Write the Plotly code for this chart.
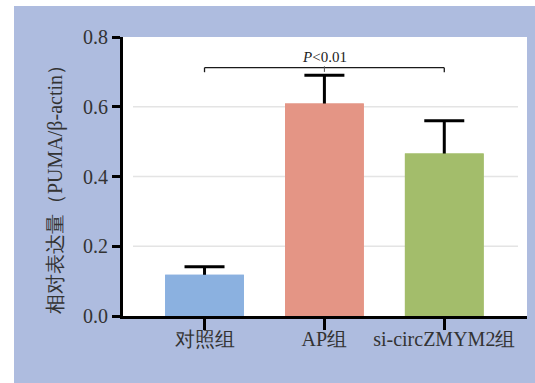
import plotly.graph_objects as go

# Relative PUMA expression by group
categories = ["对照组", "AP组", "si-circZMYM2组"]
means = [0.118, 0.609, 0.466]
sd_upper = [0.023, 0.081, 0.094]
bar_colors = ["#8BB1E0", "#E49585", "#A3BD6B"]
y_ticks = [0.0, 0.2, 0.4, 0.6, 0.8]
y_tick_text = ["0.0", "0.2", "0.4", "0.6", "0.8"]
grid_levels = [0.2, 0.4, 0.6]
bracket_y = 0.712
bracket_label = "<i>P</i>&lt;0.01"

W, H = 535, 383
ML, MR, MT, MB = 123, 8, 37, 67
PW, PH = W - ML - MR, H - MT - MB

serif = "'Liberation Serif', serif"

x_idx = list(range(len(categories)))
bar_width = 0.657

fig = go.Figure()
# first pass carries the error bars (symmetric, so the lower half sits inside the bar)
fig.add_trace(go.Bar(
    x=x_idx, y=means, width=bar_width,
    marker=dict(color=bar_colors, line=dict(width=0)),
    error_y=dict(type="data", array=sd_upper, color="#000000",
                 thickness=3, width=20),
    showlegend=False, hoverinfo="skip",
))
# second pass repaints the bars on top, hiding the lower whisker
fig.add_trace(go.Bar(
    x=x_idx, y=means, width=bar_width,
    marker=dict(color=bar_colors, line=dict(width=0)),
    showlegend=False,
))

shapes = []
# horizontal grid lines, inset from the plot edges
for g in grid_levels:
    shapes.append(dict(type="line", xref="paper", yref="y",
                       x0=(133 - ML) / PW, x1=(518 - ML) / PW, y0=g, y1=g,
                       line=dict(color="#E4E4E4", width=1.5), layer="below"))

# significance bracket between first and last group
tick_drop = 0.013
shapes.append(dict(type="line", xref="x", yref="y", x0=x_idx[0], x1=x_idx[-1],
                   y0=bracket_y, y1=bracket_y, line=dict(color="#1a1a1a", width=1.3)))
for xi in (x_idx[0], x_idx[-1]):
    shapes.append(dict(type="line", xref="x", yref="y", x0=xi, x1=xi,
                       y0=bracket_y, y1=bracket_y - tick_drop,
                       line=dict(color="#1a1a1a", width=1.3)))
shapes.append(dict(type="line", xref="x", yref="y", x0=x_idx[1], x1=x_idx[1],
                   y0=bracket_y + 0.004, y1=bracket_y - 0.012,
                   line=dict(color="#555555", width=1)))

# white page border on the left and top
shapes.append(dict(type="rect", xref="paper", yref="paper",
                   x0=-ML / PW - 0.01, x1=(14 - ML) / PW,
                   y0=-MB / PH - 0.01, y1=(PH + MT) / PH + 0.01,
                   fillcolor="white", line=dict(width=0), layer="above"))
shapes.append(dict(type="rect", xref="paper", yref="paper",
                   x0=-ML / PW - 0.01, x1=(W - ML) / PW + 0.01,
                   y0=(PH + MT - 6) / PH, y1=(PH + MT) / PH + 0.01,
                   fillcolor="white", line=dict(width=0), layer="above"))

annotations = [
    dict(text=bracket_label, x=x_idx[1], y=bracket_y, xref="x", yref="y",
         yanchor="bottom", yshift=1, showarrow=False,
         font=dict(family=serif, size=15, color="#222222")),
    dict(text="相对表达量（PUMA/β-actin）", textangle=-90,
         xref="paper", yref="paper", x=(55 - ML) / PW, y=(PH + MT - 185) / PH,
         xanchor="center", yanchor="middle", showarrow=False,
         font=dict(family=serif, size=20, color="#333333")),
]

fig.update_layout(
    width=W, height=H,
    margin=dict(l=ML, r=MR, t=MT, b=MB, pad=0),
    paper_bgcolor="#AEBCDF",
    plot_bgcolor="#FFFFFF",
    shapes=shapes,
    annotations=annotations,
    barmode="overlay",
    font=dict(family=serif),
)
fig.update_xaxes(
    range=[-0.68, 2.69],
    tickvals=x_idx, ticktext=categories,
    ticks="outside", ticklen=11, tickwidth=3, tickcolor="#000000",
    ticklabelstandoff=-8,
    showline=True, linecolor="#000000", linewidth=3,
    showgrid=False, zeroline=False,
    tickfont=dict(family=serif, size=20, color="#333333"),
)
fig.update_yaxes(
    range=[0, 0.8],
    tickvals=y_ticks, ticktext=y_tick_text,
    ticks="outside", ticklen=8, tickwidth=3, tickcolor="#000000",
    showline=True, linecolor="#000000", linewidth=3,
    showgrid=False, zeroline=False,
    tickfont=dict(family=serif, size=20, color="#333333"),
)

fig.write_html("out.html")
